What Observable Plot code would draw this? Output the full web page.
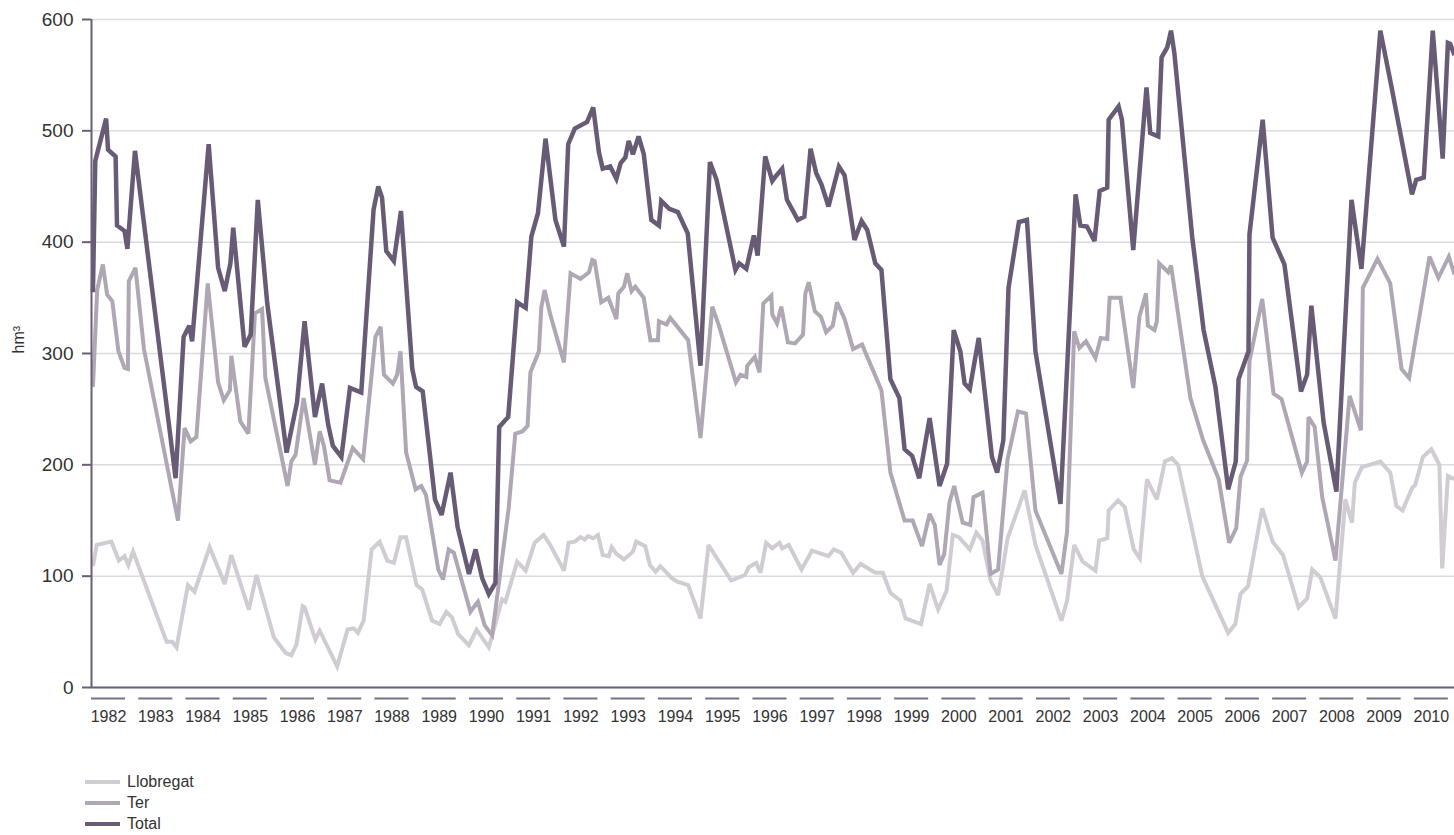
<!DOCTYPE html>
<html>
<head>
<meta charset="utf-8">
<script src="https://cdn.jsdelivr.net/npm/d3@7"></script>
<script src="https://cdn.jsdelivr.net/npm/@observablehq/plot@0.6"></script>
<style>
  html, body { margin: 0; padding: 0; background: #fff; }
  #wrap { position: relative; width: 1454px; height: 835px; overflow: hidden; font-family: "Liberation Sans", Arial, sans-serif; }
  #legend { position: absolute; left: 85px; top: 771px; font-size: 16px; color: #333; }
  .row { display: flex; align-items: center; height: 21px; }
  .sw { display: inline-block; width: 35px; height: 4px; margin-right: 7px; }
</style>
</head>
<body>
<div id="wrap"><div id="chart"></div><div id="legend"></div></div>
<script>
// ---- data ----
const seriesNames = ["Llobregat", "Ter", "Total"];
const seriesColors = ["#d1ccd4", "#afa7b4", "#685b75"];
const seriesWidths = [4, 4, 4.5];
const yearLabels = d3.range(1982, 2011);
const yTicks = [0, 100, 200, 300, 400, 500, 600];
const yUnit = "hm³";

const llobregatYears = [1982.03,1982.11,1982.42,1982.58,1982.70,1982.78,1982.88,1983.59,1983.71,1983.80,1984.04,1984.18,1984.50,1984.82,1984.96,1985.33,1985.49,1985.86,1986.11,1986.23,1986.34,1986.47,1986.51,1986.74,1986.83,1987.20,1987.42,1987.55,1987.64,1987.76,1987.93,1988.10,1988.26,1988.40,1988.54,1988.66,1988.88,1989.00,1989.21,1989.37,1989.51,1989.63,1989.76,1989.99,1990.15,1990.41,1990.69,1990.76,1991.01,1991.19,1991.38,1991.57,1991.71,1992.00,1992.10,1992.23,1992.35,1992.44,1992.51,1992.62,1992.72,1992.82,1992.95,1993.01,1993.11,1993.27,1993.46,1993.53,1993.72,1993.82,1993.94,1994.04,1994.29,1994.40,1994.63,1994.89,1995.06,1995.54,1995.83,1995.91,1996.07,1996.16,1996.28,1996.41,1996.56,1996.62,1996.76,1997.03,1997.25,1997.60,1997.71,1997.87,1998.12,1998.28,1998.59,1998.75,1998.91,1999.12,1999.23,1999.56,1999.74,1999.92,2000.10,2000.23,2000.36,2000.59,2000.73,2000.86,2001.03,2001.19,2001.30,2001.39,2001.75,2001.98,2002.53,2002.65,2002.80,2002.98,2003.25,2003.33,2003.50,2003.53,2003.73,2003.87,2004.06,2004.19,2004.34,2004.55,2004.72,2004.87,2005.00,2005.51,2006.06,2006.21,2006.32,2006.48,2006.78,2007.00,2007.22,2007.55,2007.73,2007.84,2008.01,2008.33,2008.54,2008.68,2008.74,2008.89,2009.28,2009.49,2009.62,2009.75,2009.95,2010.02,2010.18,2010.36,2010.53,2010.59,2010.71,2010.85];
const llobregatValues = [109,128,131,114,118,110,122,41,41,36,92,86,126,93,119,70,101,45,31,29,39,73,72,43,51,19,52,53,49,60,124,131,114,112,135,135,92,88,60,57,68,63,48,38,52,36,79,77,113,105,130,137,128,105,130,131,135,133,136,134,137,119,118,126,120,115,122,131,127,110,104,109,98,95,92,62,128,96,101,108,112,103,130,125,130,125,128,106,123,118,124,121,103,111,103,103,85,78,62,57,93,70,87,137,135,124,139,132,96,83,110,134,177,128,60,78,128,113,105,132,134,159,168,162,124,116,187,169,203,206,200,100,49,57,84,91,161,131,119,72,80,106,99,62,169,148,184,198,203,193,163,159,179,182,207,214,200,107,190,187];

const terYears = [1982.03,1982.12,1982.24,1982.33,1982.44,1982.57,1982.70,1982.77,1982.79,1982.93,1983.11,1983.83,1983.97,1984.10,1984.22,1984.46,1984.68,1984.80,1984.93,1984.96,1985.15,1985.32,1985.46,1985.61,1985.68,1986.15,1986.23,1986.32,1986.49,1986.73,1986.83,1986.92,1987.04,1987.27,1987.53,1987.75,1988.01,1988.12,1988.19,1988.38,1988.47,1988.54,1988.66,1988.86,1988.98,1989.08,1989.34,1989.44,1989.56,1989.67,1990.02,1990.18,1990.32,1990.48,1990.83,1990.97,1991.12,1991.23,1991.29,1991.47,1991.52,1991.59,1991.71,1992.00,1992.14,1992.35,1992.53,1992.60,1992.65,1992.79,1992.94,1993.11,1993.15,1993.27,1993.34,1993.43,1993.51,1993.69,1993.83,1993.99,1994.01,1994.17,1994.25,1994.63,1994.89,1995.14,1995.28,1995.64,1995.74,1995.86,1995.88,1996.04,1996.14,1996.22,1996.39,1996.41,1996.51,1996.60,1996.74,1996.89,1997.06,1997.11,1997.18,1997.31,1997.44,1997.55,1997.69,1997.78,1997.94,1998.12,1998.31,1998.72,1998.91,1999.21,1999.38,1999.58,1999.74,1999.85,1999.95,2000.05,2000.16,2000.26,2000.44,2000.60,2000.67,2000.86,2001.03,2001.19,2001.30,2001.39,2001.61,2001.78,2001.98,2002.53,2002.65,2002.80,2002.91,2003.05,2003.25,2003.36,2003.50,2003.55,2003.78,2004.05,2004.18,2004.32,2004.36,2004.50,2004.55,2004.60,2004.79,2004.85,2005.26,2005.53,2005.86,2006.08,2006.23,2006.32,2006.46,2006.51,2006.78,2007.02,2007.19,2007.62,2007.73,2007.76,2007.89,2008.05,2008.33,2008.63,2008.87,2008.91,2009.22,2009.49,2009.73,2009.89,2010.32,2010.51,2010.73,2010.85];
const terValues = [270,357,380,353,347,302,287,286,365,377,304,150,233,221,225,363,274,258,267,298,239,228,336,340,278,181,203,209,260,200,230,217,186,184,215,205,315,324,281,273,281,302,211,178,181,173,106,97,124,121,68,77,56,47,161,228,230,235,283,302,341,357,335,292,372,367,373,384,383,346,350,331,354,360,372,356,360,350,312,312,329,326,332,312,224,342,325,274,281,279,289,297,283,345,352,335,327,342,310,309,317,354,364,338,333,319,325,346,331,304,308,267,193,150,150,127,156,146,110,120,166,181,148,146,171,175,102,106,160,205,248,246,159,102,140,320,305,311,296,314,313,350,350,269,333,354,325,321,329,381,373,379,260,222,187,130,143,189,204,293,349,264,259,193,203,243,234,171,114,262,231,359,385,363,286,278,387,368,387,371];

const totalYears = [1982.03,1982.08,1982.31,1982.35,1982.51,1982.54,1982.70,1982.76,1982.92,1983.78,1983.95,1984.07,1984.13,1984.48,1984.68,1984.82,1984.94,1985.00,1985.24,1985.37,1985.52,1985.72,1986.13,1986.35,1986.51,1986.73,1986.88,1987.01,1987.11,1987.29,1987.47,1987.71,1987.97,1988.07,1988.15,1988.24,1988.40,1988.55,1988.79,1988.87,1989.01,1989.27,1989.41,1989.60,1989.75,1989.99,1990.13,1990.27,1990.41,1990.55,1990.63,1990.82,1991.01,1991.19,1991.31,1991.45,1991.61,1991.82,1992.00,1992.09,1992.23,1992.49,1992.62,1992.74,1992.82,1992.98,1993.11,1993.20,1993.30,1993.37,1993.46,1993.58,1993.69,1993.85,1994.01,1994.06,1994.23,1994.41,1994.62,1994.89,1995.09,1995.23,1995.63,1995.71,1995.86,1996.02,1996.10,1996.26,1996.41,1996.48,1996.62,1996.72,1996.95,1997.09,1997.22,1997.34,1997.45,1997.60,1997.82,1997.94,1998.15,1998.30,1998.42,1998.59,1998.72,1998.91,1999.10,1999.21,1999.37,1999.52,1999.74,1999.95,2000.11,2000.25,2000.39,2000.48,2000.59,2000.78,2001.06,2001.17,2001.30,2001.41,2001.63,2001.80,2001.98,2002.51,2002.83,2002.93,2003.07,2003.23,2003.34,2003.50,2003.53,2003.74,2003.81,2004.05,2004.33,2004.41,2004.58,2004.65,2004.77,2004.85,2004.92,2005.30,2005.54,2005.79,2006.06,2006.22,2006.28,2006.49,2006.51,2006.79,2007.00,2007.25,2007.60,2007.73,2007.82,2008.08,2008.35,2008.67,2008.88,2009.28,2009.51,2009.95,2010.04,2010.20,2010.39,2010.60,2010.71,2010.76,2010.85];
const totalValues = [355,473,511,483,477,415,410,394,482,188,315,325,311,488,377,356,381,413,306,317,438,345,211,256,329,243,273,236,217,207,269,265,429,450,440,392,383,428,286,270,266,169,155,193,144,102,124,98,84,94,234,243,346,341,405,426,493,420,396,488,502,508,521,481,466,468,457,471,476,491,479,495,479,420,415,437,430,427,408,289,472,456,375,381,376,406,388,477,455,459,466,438,420,423,484,462,452,432,468,460,402,419,411,381,375,277,260,214,208,188,242,181,201,321,302,273,268,314,207,193,222,359,418,420,302,165,443,415,414,401,446,449,510,522,510,393,539,498,495,566,575,590,570,404,321,270,178,203,277,302,407,510,404,380,266,281,343,238,176,438,376,590,541,443,456,458,590,475,579,578,568];

// ---- build tidy tables ----
const seriesData = [[llobregatYears, llobregatValues], [terYears, terValues], [totalYears, totalValues]]
  .map(([ys, vs], i) => ys.map((t, j) => ({series: seriesNames[i], t, v: vs[j]})));

const axisColor = "#6b5f78";
const textColor = "#333";

const chart = Plot.plot({
  width: 1454,
  height: 735,
  marginLeft: 91,
  marginRight: 0,
  marginTop: 19,
  marginBottom: 48,
  style: {fontFamily: "'Liberation Sans', Arial, sans-serif", background: "#fff", color: textColor, overflow: "visible"},
  x: {domain: [1982, 2010.85]},
  y: {domain: [0, 600]},
  marks: [
    Plot.gridY(yTicks, {stroke: "#dcdbe0", strokeOpacity: 1, strokeWidth: 1.5}),
    ...seriesData.map((data, i) => Plot.line(data, {x: "t", y: "v", stroke: seriesColors[i], strokeWidth: seriesWidths[i], strokeLinejoin: "miter", strokeMiterlimit: 3, strokeLinecap: "butt"})),
    Plot.ruleX([1982], {stroke: axisColor, strokeWidth: 2}),
    Plot.ruleY([0], {stroke: axisColor, strokeWidth: 2.2}),
    Plot.axisY(yTicks, {tickSize: 9, tickPadding: 9, stroke: axisColor, strokeWidth: 2, fill: textColor, fontSize: 19, label: null}),
    Plot.text([yUnit], {frameAnchor: "left", rotate: -90, dx: -73, fontSize: 16, fill: textColor}),
    Plot.ruleY(yearLabels, {x1: d => d, x2: d => d + 0.72, y: () => 0, dy: 11, stroke: "#7a6f86", strokeWidth: 2}),
    Plot.axisX(yearLabels.map(d => d + 0.36), {tickSize: 0, tickPadding: 23, tickFormat: d => String(Math.floor(d)), fontSize: 16, fill: textColor, label: null})
  ]
});
document.getElementById("chart").appendChild(chart);

// ---- legend ----
const legend = document.getElementById("legend");
seriesNames.forEach((name, i) => {
  const row = document.createElement("div");
  row.className = "row";
  const sw = document.createElement("span");
  sw.className = "sw";
  sw.style.background = seriesColors[i];
  row.appendChild(sw);
  row.appendChild(document.createTextNode(name));
  legend.appendChild(row);
});
</script>
</body>
</html>
